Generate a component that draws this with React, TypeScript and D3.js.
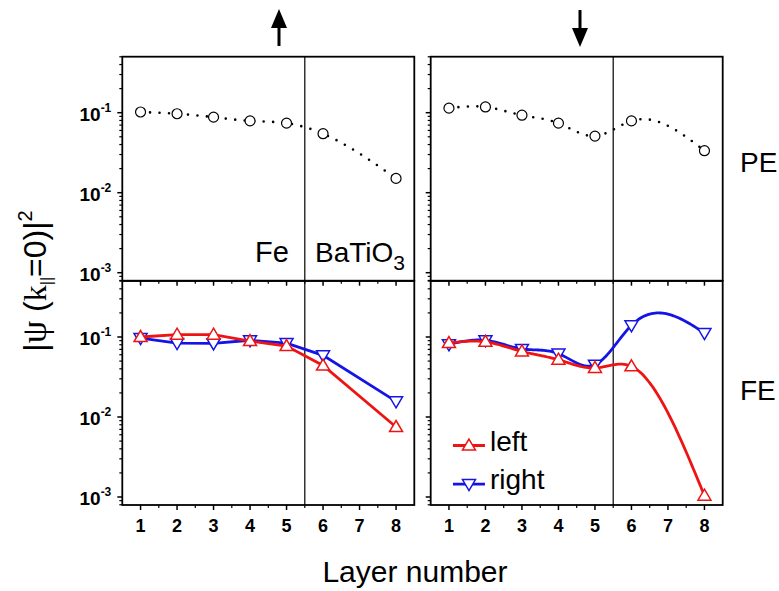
import React, { useEffect, useRef } from 'react';
import * as d3 from 'd3';

// layer numbers (layer 7 has no point)
const layers = [1, 2, 3, 4, 5, 6, 8];

// PE: paraelectric, one curve per panel
const peUp = [0.102, 0.097, 0.088, 0.079, 0.074, 0.0546, 0.0151];
const peDown = [0.114, 0.118, 0.093, 0.074, 0.051, 0.079, 0.0335];

// FE: ferroelectric, left / right
const feUpLeft = [0.1, 0.107, 0.107, 0.089, 0.077, 0.044, 0.0075];
const feUpRight = [0.097, 0.084, 0.083, 0.091, 0.084, 0.059, 0.0157];
const feDownLeft = [0.084, 0.087, 0.066, 0.052, 0.041, 0.043, 0.00104];
const feDownRight = [0.081, 0.091, 0.071, 0.062, 0.045, 0.14, 0.112];

const xTicks = [1, 2, 3, 4, 5, 6, 7, 8];
const yTicks = [1e-3, 1e-2, 1e-1];
const yTickExp = ['-3', '-2', '-1'];
const legendNames = ['left', 'right'];

const RED = '#ee1414';
const BLUE = '#1414e6';
const FONT = '"Liberation Sans", Arial, sans-serif';

// natural cubic spline through (xs, ys), as a function of x
const naturalSpline = (xs: number[], ys: number[]) => {
  const n = xs.length;
  const h: number[] = [];
  for (let i = 0; i < n - 1; i++) h.push(xs[i + 1] - xs[i]);
  const M = new Array(n).fill(0);
  const cp = new Array(n).fill(0);
  const dp = new Array(n).fill(0);
  for (let i = 1; i < n - 1; i++) {
    const a = h[i - 1];
    const b = 2 * (h[i - 1] + h[i]);
    const c = h[i];
    const r = 6 * ((ys[i + 1] - ys[i]) / h[i] - (ys[i] - ys[i - 1]) / h[i - 1]);
    const den = b - a * cp[i - 1];
    cp[i] = c / den;
    dp[i] = (r - a * dp[i - 1]) / den;
  }
  for (let i = n - 2; i >= 1; i--) M[i] = dp[i] - cp[i] * M[i + 1];
  return (t: number) => {
    let i = 0;
    while (i < n - 2 && t > xs[i + 1]) i++;
    const hi = h[i];
    const A = xs[i + 1] - t;
    const B = t - xs[i];
    return (
      (M[i] * A * A * A) / (6 * hi) +
      (M[i + 1] * B * B * B) / (6 * hi) +
      (ys[i] / hi - (M[i] * hi) / 6) * A +
      (ys[i + 1] / hi - (M[i + 1] * hi) / 6) * B
    );
  };
};

const App = () => {
  const ref = useRef<SVGSVGElement>(null);

  useEffect(() => {
    const svg = d3.select(ref.current);
    svg.selectAll('*').remove();

    const W = 292;
    const H = 224;
    const cols = [122.3, 430.7];
    const rows = [56.7, 281];

    const x = d3.scaleLinear().domain([0.5, 8.5]).range([0, W]);
    const y = d3.scaleLog().domain([Math.pow(10, -3.1), Math.pow(10, -0.3)]).range([H, 0]);

    // minor ticks 2..9 in each decade
    const minor: number[] = [];
    [-4, -3, -2, -1].forEach(e => {
      for (let m = 2; m <= 9; m++) {
        const v = m * Math.pow(10, e);
        if (v > y.domain()[0] && v < y.domain()[1]) minor.push(v);
      }
    });

    const upTri = 'M0,-6.5L6.5,4.5L-6.5,4.5Z';
    const downTri = 'M0,6.5L6.5,-4.5L-6.5,-4.5Z';

    const linePath = d3.line<number>().x((d, i) => x(layers[i])).y(d => y(d));
    // spline drawn in log space, sampled along x
    const splinePath = (vals: number[]) => {
      const f = naturalSpline(layers, vals.map(v => Math.log10(v)));
      const ts = d3.range(layers[0], layers[layers.length - 1] + 0.001, 0.05);
      return d3.line<number>().x(t => x(t)).y(t => y(Math.pow(10, f(t))))(ts);
    };

    const panels = [
      { col: 0, row: 0, kind: 'pe', data: [peUp] },
      { col: 1, row: 0, kind: 'pe', data: [peDown] },
      { col: 0, row: 1, kind: 'fe', data: [feUpLeft, feUpRight] },
      { col: 1, row: 1, kind: 'fe', data: [feDownLeft, feDownRight] },
    ];

    panels.forEach(p => {
      const g = svg.append('g').attr('transform', `translate(${cols[p.col]},${rows[p.row]})`);

      // divider Fe | BaTiO3
      g.append('line')
        .attr('x1', x(5.5)).attr('x2', x(5.5))
        .attr('y1', 0).attr('y2', H)
        .attr('stroke', '#000').attr('stroke-width', 1.2);

      // y ticks on the left, outward
      g.selectAll('.ymaj').data(yTicks).enter().append('line')
        .attr('x1', -5).attr('x2', 0)
        .attr('y1', d => y(d)).attr('y2', d => y(d))
        .attr('stroke', '#000').attr('stroke-width', 1.5);
      g.selectAll('.ymin').data(minor).enter().append('line')
        .attr('x1', -3).attr('x2', 0)
        .attr('y1', d => y(d)).attr('y2', d => y(d))
        .attr('stroke', '#000').attr('stroke-width', 1.2);

      // x ticks at bottom, outward
      g.selectAll('.xmaj').data(xTicks).enter().append('line')
        .attr('x1', d => x(d)).attr('x2', d => x(d))
        .attr('y1', H).attr('y2', H + 5)
        .attr('stroke', '#000').attr('stroke-width', 1.5);
      g.selectAll('.xmin').data(xTicks.slice(0, -1).map(d => d + 0.5)).enter().append('line')
        .attr('x1', d => x(d)).attr('x2', d => x(d))
        .attr('y1', H).attr('y2', H + 3)
        .attr('stroke', '#000').attr('stroke-width', 1.2);

      // frame
      g.append('rect')
        .attr('width', W).attr('height', H)
        .attr('fill', 'none').attr('stroke', '#000').attr('stroke-width', 1.8);

      if (p.col === 0) {
        const lbl = g.selectAll('.ylab').data(yTicks).enter().append('text')
          .attr('x', -11).attr('y', d => y(d) + 8)
          .attr('text-anchor', 'end')
          .attr('font-family', FONT).attr('font-weight', 'bold').attr('font-size', 19);
        lbl.append('tspan').text('10');
        lbl.append('tspan').attr('dy', -9).attr('font-size', 12).text((d, i) => yTickExp[i]);
      }

      if (p.row === 1) {
        g.selectAll('.xlab').data(xTicks).enter().append('text')
          .attr('x', d => x(d)).attr('y', H + 27)
          .attr('text-anchor', 'middle')
          .attr('font-family', FONT).attr('font-weight', 'bold').attr('font-size', 18)
          .text(d => d);
      }

      const pathOf = (vals: number[]) =>
        p.kind === 'fe' && p.col === 0 ? linePath(vals) : splinePath(vals);

      if (p.kind === 'pe') {
        const vals = p.data[0];
        g.append('path').attr('d', pathOf(vals))
          .attr('fill', 'none').attr('stroke', '#000').attr('stroke-width', 2.6)
          .attr('stroke-linecap', 'round').attr('stroke-dasharray', '0 9.5');
        g.selectAll('.pt').data(vals).enter().append('circle')
          .attr('cx', (d, i) => x(layers[i])).attr('cy', d => y(d)).attr('r', 5)
          .attr('fill', '#fff').attr('stroke', '#000').attr('stroke-width', 1.2);
      } else {
        const colors = [RED, BLUE];
        const shapes = [upTri, downTri];
        // right (blue) drawn first, red on top
        [1, 0].forEach(k => {
          const vals = p.data[k];
          g.append('path').attr('d', pathOf(vals))
            .attr('fill', 'none').attr('stroke', colors[k]).attr('stroke-width', 2.8);
          g.selectAll('.m' + k).data(vals).enter().append('path')
            .attr('d', shapes[k])
            .attr('transform', (d, i) => `translate(${x(layers[i])},${y(d)})`)
            .attr('fill', '#fff').attr('stroke', colors[k]).attr('stroke-width', 1.5);
        });

        if (p.col === 1) {
          // legend
          const lg = g.append('g').attr('transform', `translate(${x(1.11)},${y(0.0044)})`);
          legendNames.forEach((name, k) => {
            const row = lg.append('g').attr('transform', `translate(0,${k * 38.6})`);
            row.append('line').attr('x1', 0).attr('x2', 32)
              .attr('stroke', colors[k]).attr('stroke-width', 2.8);
            row.append('path').attr('d', shapes[k]).attr('transform', 'translate(16,0)')
              .attr('fill', '#fff').attr('stroke', colors[k]).attr('stroke-width', 1.5);
            row.append('text').attr('x', 37).attr('y', 5)
              .attr('font-family', FONT).attr('font-size', 28).text(name);
          });
        }
      }
    });

    // region labels
    svg.append('text').attr('x', 255).attr('y', 262)
      .attr('font-family', FONT).attr('font-size', 29).text('Fe');
    const bt = svg.append('text').attr('x', 315).attr('y', 262)
      .attr('font-family', FONT).attr('font-size', 28);
    bt.append('tspan').text('BaTiO');
    bt.append('tspan').attr('dy', 8).attr('font-size', 21).text('3');

    svg.append('text').attr('x', 740).attr('y', 172)
      .attr('font-family', FONT).attr('font-size', 28).text('PE');
    svg.append('text').attr('x', 740).attr('y', 400)
      .attr('font-family', FONT).attr('font-size', 28).text('FE');

    // spin arrows
    const arrow = (cx: number, up: boolean) => {
      const a = svg.append('g').attr('transform', `translate(${cx},0)`);
      if (up) {
        a.append('line').attr('x1', 0).attr('x2', 0).attr('y1', 26).attr('y2', 46)
          .attr('stroke', '#000').attr('stroke-width', 3);
        a.append('path').attr('d', 'M0,9L8,28L-8,28Z').attr('fill', '#000');
      } else {
        a.append('line').attr('x1', 0).attr('x2', 0).attr('y1', 10).attr('y2', 30)
          .attr('stroke', '#000').attr('stroke-width', 3);
        a.append('path').attr('d', 'M0,47L8,28L-8,28Z').attr('fill', '#000');
      }
    };
    arrow(279, true);
    arrow(580, false);

    // axis titles
    svg.append('text').attr('x', 415).attr('y', 582).attr('text-anchor', 'middle')
      .attr('font-family', FONT).attr('font-size', 30).text('Layer number');

    const yt = svg.append('text')
      .attr('transform', 'translate(46,281) rotate(-90)')
      .attr('text-anchor', 'middle')
      .attr('font-family', FONT).attr('font-size', 32);
    yt.append('tspan').text('|');
    yt.append('tspan').attr('font-family', '"Liberation Serif", serif').attr('font-size', 36).text('ψ');
    yt.append('tspan').text(' (');
    yt.append('tspan').attr('font-family', '"Liberation Serif", serif').text('k');
    yt.append('tspan').attr('dy', 6).attr('font-size', 16).text('||');
    yt.append('tspan').attr('dy', -6).text('=0)|');
    yt.append('tspan').attr('dy', -14).attr('font-size', 20).text('2');
  }, []);

  return (
    <svg
      ref={ref}
      width={779}
      height={591}
      style={{ position: 'absolute', left: 0, top: 0, background: '#fff' }}
    />
  );
};

export default App;
